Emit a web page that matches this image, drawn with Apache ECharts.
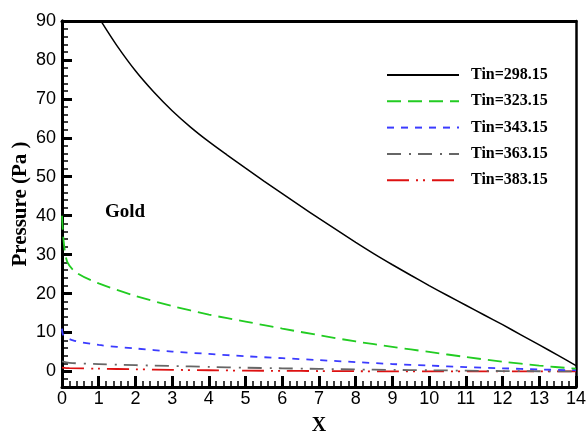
<!DOCTYPE html>
<html>
<head>
<meta charset="utf-8">
<script src="https://cdn.jsdelivr.net/npm/echarts@6/dist/echarts.min.js"></script>
<style>
html,body{margin:0;padding:0;background:#fff;}
#chart{width:586px;height:432px;}
</style>
</head>
<body>
<div id="chart"></div>
<script>
// Series names
const seriesNames = ['Tin=298.15', 'Tin=323.15', 'Tin=343.15', 'Tin=363.15', 'Tin=383.15'];

// Tin=298.15 (black solid)
const xBlack = [1.08, 1.5, 2, 2.5, 3, 3.5, 4, 4.5, 5, 5.5, 6, 6.5, 7, 7.5, 8, 8.5, 9, 9.5, 10, 10.5, 11, 11.5, 12, 12.5, 13, 13.5, 14];
const yBlack = [89.7, 83.6, 77.2, 71.75, 66.95, 62.75, 59.0, 55.55, 52.2, 48.9, 45.65, 42.45, 39.3, 36.2, 33.15, 30.2, 27.4, 24.7, 22.05, 19.5, 17.0, 14.5, 12.0, 9.4, 6.8, 4.2, 1.5];

// Tin=323.15 (green long dash)
const xGreen = [0, 0.05, 0.15, 0.4, 1, 2, 3, 4, 5, 6, 7, 8, 9, 10, 11, 12, 13, 14];
const yGreen = [40, 33, 28, 25.3, 22.6, 19.4, 16.8, 14.6, 12.8, 11.0, 9.3, 7.7, 6.3, 5.0, 3.7, 2.5, 1.5, 0.7];

// Tin=343.15 (blue short dash)
const xBlue = [0, 0.04, 0.3, 1, 2, 3, 4, 5, 6, 7, 8, 9, 10, 11, 12, 13, 14];
const yBlue = [11, 9.3, 8.0, 6.8, 5.9, 5.1, 4.5, 3.9, 3.4, 2.9, 2.4, 1.9, 1.5, 1.1, 0.8, 0.5, 0.3];

// Tin=363.15 (gray dash-dot)
const xGray = [0, 0.2, 1, 2, 3, 4, 5, 6, 7, 8, 9, 10, 11, 12, 13, 14];
const yGray = [2.6, 2.2, 1.9, 1.6, 1.4, 1.15, 0.95, 0.8, 0.65, 0.5, 0.4, 0.3, 0.2, 0.1, 0.05, 0];

// Tin=383.15 (red dash-dot-dot)
const xRed = [0, 0.2, 1, 2, 3, 4, 5, 6, 7, 8, 9, 10, 11, 12, 13, 14];
const yRed = [1.0, 0.85, 0.7, 0.55, 0.4, 0.3, 0.2, 0.15, 0.1, 0.05, 0, 0, 0, 0, 0, 0];

// Axis ticks
const yMajorTicks = [0, 10, 20, 30, 40, 50, 60, 70, 80, 90];
const xMin = 0, xMax = 14, yMin = -4, yMax = 90;

const pair = (xs, ys) => xs.map((x, i) => [x, ys[i]]);

const tickFont = {fontFamily: 'Liberation Sans Narrow, Liberation Sans, Arial, sans-serif', fontSize: 18, color: '#000'};
const serifBold = 'Liberation Serif, Times New Roman, serif';

const styles = [
  {color: '#000000', width: 1.5, type: 'solid'},
  {color: '#22cc22', width: 1.8, type: [14, 7]},
  {color: '#3b3bff', width: 1.8, type: [7, 7]},
  {color: '#666666', width: 1.8, type: [14, 8, 2, 7]},
  {color: '#dd1111', width: 1.8, type: [22, 7, 2, 5, 2, 7]}
];
// all y axes share the same range, so each series may sit on any of them
const yAxisOf = [0, 0, 0, 2, 1];
const datas = [pair(xBlack, yBlack), pair(xGreen, yGreen), pair(xBlue, yBlue), pair(xGray, yGray), pair(xRed, yRed)];

const chart = echarts.init(document.getElementById('chart'));
chart.setOption({
  animation: false,
  backgroundColor: '#fff',
  title: {
    text: 'Gold', left: 100, top: 198,
    textStyle: {fontFamily: serifBold, fontWeight: 'bold', fontSize: 19, color: '#000'}
  },
  legend: {
    orient: 'vertical', left: 381, top: 61,
    itemWidth: 72, itemHeight: 14, itemGap: 8.3,
    data: seriesNames,
    itemStyle: {color: 'rgba(0,0,0,0)', borderColor: 'rgba(0,0,0,0)', borderWidth: 0},
    textStyle: {fontFamily: serifBold, fontWeight: 'bold', fontSize: 16, color: '#000', lineHeight: 18, padding: [0, 0, 0, 7]}
  },
  grid: {left: 62, right: 10, top: 21, bottom: 45, outerBoundsMode: 'none', containLabel: false},
  xAxis: [{
    type: 'value', min: xMin, max: xMax, interval: 1,
    name: 'X', nameLocation: 'middle', nameGap: 29, nameMoveOverlap: false,
    nameTextStyle: {fontFamily: serifBold, fontWeight: 'bold', fontSize: 20, color: '#000'},
    axisLine: {show: true, onZero: false, lineStyle: {color: '#000', width: 3}},
    axisTick: {show: true, inside: true, length: 11, lineStyle: {color: '#000', width: 3}},
    minorTick: {show: true, splitNumber: 5, length: 6, lineStyle: {color: '#000', width: 1.5}},
    axisLabel: Object.assign({margin: 3}, tickFont),
    splitLine: {show: false}
  }, {
    type: 'value', min: xMin, max: xMax, interval: 1, position: 'top',
    axisLine: {show: true, onZero: false, lineStyle: {color: '#000', width: 3}},
    axisTick: {show: false}, axisLabel: {show: false}, splitLine: {show: false}
  }],
  yAxis: [{
    type: 'value', min: yMin, max: yMax, interval: 2,
    name: 'Pressure (Pa )', nameLocation: 'middle', nameGap: 31, nameMoveOverlap: false,
    nameTextStyle: {fontFamily: serifBold, fontWeight: 'bold', fontSize: 21, color: '#000'},
    axisLine: {show: true, onZero: false, lineStyle: {color: '#000', width: 3}},
    axisTick: {show: true, inside: true, length: 6, lineStyle: {color: '#000', width: 1.5}},
    axisLabel: Object.assign({margin: 6, formatter: v => (yMajorTicks.indexOf(v) >= 0 ? String(v) : '')}, tickFont),
    splitLine: {show: false}
  }, {
    // no explicit interval: nice step of 10 aligned to multiples of 10
    type: 'value', min: yMin, max: yMax, splitNumber: 10, position: 'left',
    axisLine: {show: true, onZero: false, lineStyle: {color: '#000', width: 3}},
    axisTick: {show: true, inside: true, length: 10, lineStyle: {color: '#000', width: 3}},
    axisLabel: {show: false}, splitLine: {show: false}
  }, {
    type: 'value', min: yMin, max: yMax, interval: 2, position: 'right',
    axisLine: {show: true, onZero: false, lineStyle: {color: '#000', width: 2.5}},
    axisTick: {show: false}, axisLabel: {show: false}, splitLine: {show: false}
  }],
  series: seriesNames.map((name, i) => ({
    name: name,
    type: 'line',
    data: datas[i],
    xAxisIndex: 0, yAxisIndex: yAxisOf[i],
    symbol: 'none',
    smooth: 0.3,
    clip: true,
    z: 10 - i,
    lineStyle: {color: styles[i].color, width: styles[i].width, type: styles[i].type},
    itemStyle: {color: styles[i].color}
  }))
});
</script>
</body>
</html>
